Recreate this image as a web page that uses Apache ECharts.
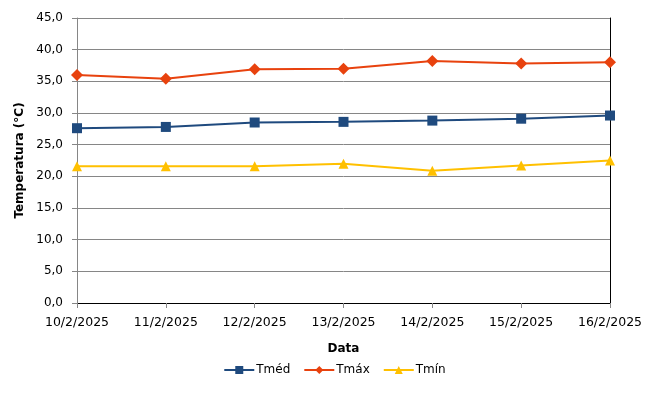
<!DOCTYPE html>
<html>
<head>
<meta charset="utf-8">
<script src="https://cdn.jsdelivr.net/npm/echarts@6/dist/echarts.min.js"></script>
<style>
  html, body { margin: 0; padding: 0; background: #fff; }
  #chart { width: 669px; height: 403px; }
</style>
</head>
<body>
<div id="chart"></div>
<script>
// datas e temperaturas
const categories = ['10/2/2025', '11/2/2025', '12/2/2025', '13/2/2025', '14/2/2025', '15/2/2025', '16/2/2025'];
const tMed = [27.6, 27.8, 28.5, 28.6, 28.8, 29.1, 29.6];
const tMax = [36.0, 35.4, 36.9, 37.0, 38.2, 37.8, 38.0];
const tMin = [21.6, 21.6, 21.6, 22.0, 20.9, 21.7, 22.5];

const FONT = '"DejaVu Sans", sans-serif';

const chart = echarts.init(document.getElementById('chart'), null, { renderer: 'canvas' });

const fmt = v => v.toFixed(1).replace('.', ',');

chart.setOption({
  animation: false,
  textStyle: { fontFamily: FONT },
  grid: { left: 77, right: 59, top: 18, bottom: 100 },
  legend: {
    bottom: 22,
    left: 'center',
    itemWidth: 30,
    itemHeight: 10,
    itemGap: 13,
    textStyle: { fontFamily: FONT, fontSize: 12, color: '#000', padding: [0, 0, 0, -3] },
    data: ['Tméd', 'Tmáx', 'Tmín']
  },
  xAxis: [{
    type: 'category',
    data: categories,
    boundaryGap: false,
    name: 'Data',
    nameLocation: 'middle',
    nameGap: 40,
    nameTextStyle: { fontFamily: FONT, fontSize: 12, fontWeight: 'bold', color: '#000' },
    axisLine: { lineStyle: { color: '#868686' } },
    axisTick: { show: true, alignWithLabel: true, length: 5, lineStyle: { color: '#868686' } },
    axisLabel: { fontFamily: FONT, fontSize: 12.5, color: '#000', margin: 13, interval: 0 },
    splitLine: { show: false }
  }, {
    type: 'category',
    data: categories,
    position: 'top',
    boundaryGap: false,
    axisLine: { show: true, lineStyle: { color: '#000' } },
    axisTick: { show: false },
    axisLabel: { show: false },
    splitLine: { show: false }
  }],
  yAxis: [{
    type: 'value',
    min: 0,
    max: 45,
    interval: 5,
    name: 'Temperatura (°C)',
    nameLocation: 'middle',
    nameGap: 46,
    nameTextStyle: { fontFamily: FONT, fontSize: 12, fontWeight: 'bold', color: '#000' },
    axisLine: { show: true, lineStyle: { color: '#868686' } },
    axisTick: { show: true, length: 5, lineStyle: { color: '#868686' } },
    axisLabel: { fontFamily: FONT, fontSize: 12, color: '#000', margin: 14, formatter: fmt },
    splitLine: { show: true, lineStyle: { color: '#868686', width: 1 } }
  }, {
    type: 'value',
    position: 'right',
    min: 0,
    max: 45,
    interval: 5,
    axisLine: { show: true, lineStyle: { color: '#000' } },
    axisTick: { show: false },
    axisLabel: { show: false },
    splitLine: { show: false }
  }],
  series: [{
    name: 'Tméd',
    type: 'line',
    data: tMed,
    symbol: 'rect',
    symbolSize: 10,
    color: '#1F4A7E',
    lineStyle: { width: 2 }
  }, {
    name: 'Tmáx',
    type: 'line',
    data: tMax,
    symbol: 'diamond',
    symbolSize: 12,
    color: '#E8420E',
    lineStyle: { width: 2 }
  }, {
    name: 'Tmín',
    type: 'line',
    data: tMin,
    symbol: 'triangle',
    symbolSize: 10,
    color: '#FFC000',
    lineStyle: { width: 2 }
  }]
});
</script>
</body>
</html>
